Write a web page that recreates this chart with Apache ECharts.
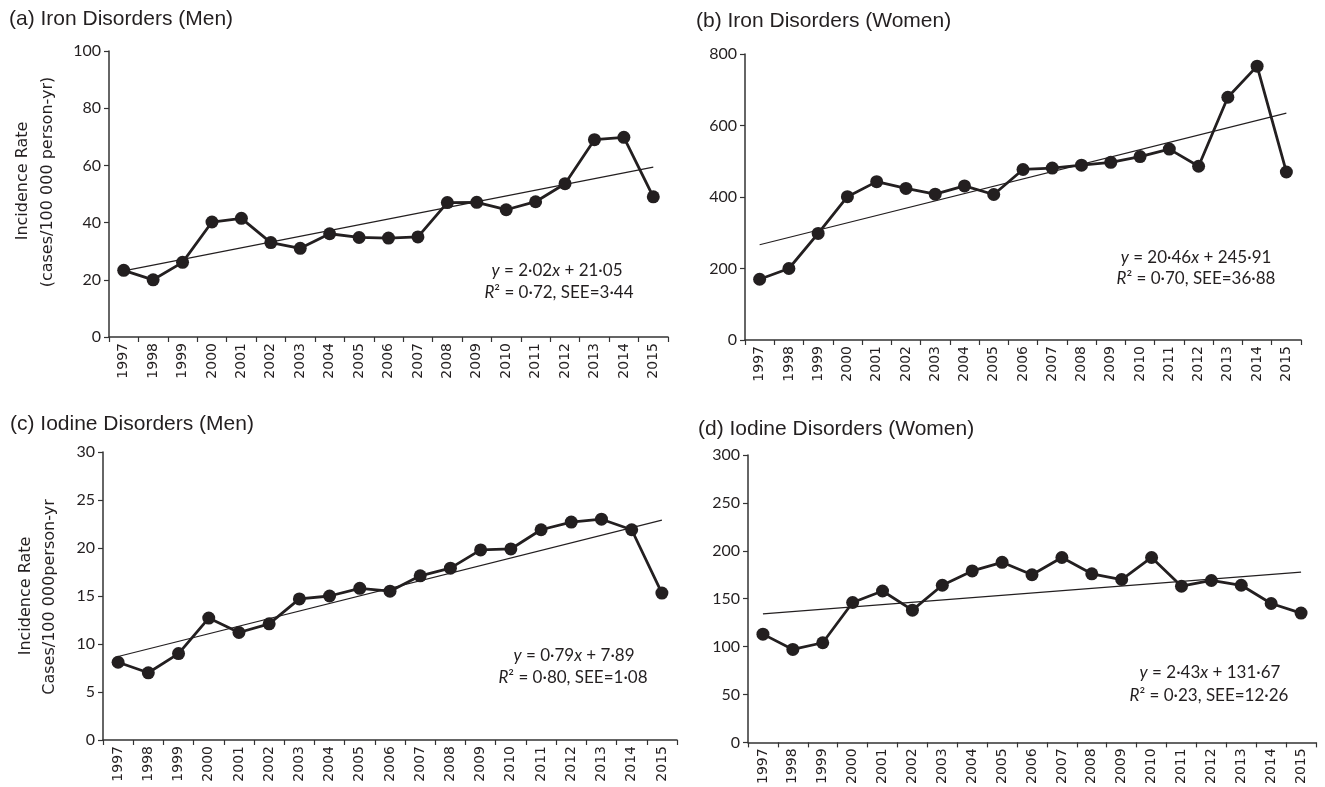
<!DOCTYPE html>
<html>
<head>
<meta charset="utf-8">
<script src="https://cdn.jsdelivr.net/npm/echarts@6/dist/echarts.min.js"></script>
<style>
html,body{margin:0;padding:0;background:#fff;}
#chart{width:1325px;height:787px;}
</style>
</head>
<body>
<div id="chart"></div>
<script>
// ---- data ----
const years = ['1997','1998','1999','2000','2001','2002','2003','2004','2005','2006','2007','2008','2009','2010','2011','2012','2013','2014','2015'];

const ironMen      = [23.3, 20.0, 26.1, 40.2, 41.5, 33.0, 31.0, 36.1, 34.8, 34.6, 35.0, 47.0, 47.1, 44.5, 47.3, 53.6, 69.0, 69.8, 49.0];
const ironWomen    = [170, 200, 298, 401, 443, 424, 408, 431, 407, 477, 481, 489, 497, 513, 534, 486, 679, 766, 470];
const iodineMen    = [8.1, 7.0, 9.0, 12.7, 11.2, 12.1, 14.7, 15.0, 15.8, 15.5, 17.1, 17.9, 19.8, 19.9, 21.9, 22.7, 23.0, 21.9, 15.3];
const iodineWomen  = [113, 97, 104, 146, 158, 138, 164, 179, 188, 175, 193, 176, 170, 193, 163, 169, 164, 145, 135];

// fitted-line end values (1997, 2015)
const trendIronMen     = [23.1, 59.4];
const trendIronWomen   = [266.4, 634.7];
const trendIodineMen   = [8.7, 22.9];
const trendIodineWomen = [134.1, 177.8];

// y axis ranges [min, max, interval]
const yIronMen     = [0, 100, 20];
const yIronWomen   = [0, 800, 200];
const yIodineMen   = [0, 30, 5];
const yIodineWomen = [0, 300, 50];

const titles = ['(a) Iron Disorders (Men)', '(b) Iron Disorders (Women)', '(c) Iodine Disorders (Men)', '(d) Iodine Disorders (Women)'];
const eqLines = [
  ['{i|y} = 2·02{i|x} + 21·05', '{i|R}² = 0·72, SEE=3·44'],
  ['{i|y} = 20·46{i|x} + 245·91', '{i|R}² = 0·70, SEE=36·88'],
  ['{i|y} = 0·79{i|x} + 7·89', '{i|R}² = 0·80, SEE=1·08'],
  ['{i|y} = 2·43{i|x} + 131·67', '{i|R}² = 0·23, SEE=12·26']
];
const yTitles = [['Incidence Rate', '(cases/100 000 person-yr)'], ['Incidence Rate', 'Cases/100 000person-yr']];

// ---- layout ----
const INK = '#231f20';
const grids = [
  {left: 109, top: 51, width: 559, height: 286},
  {left: 745, top: 54, width: 556, height: 286},
  {left: 103, top: 452, width: 574, height: 288},
  {left: 748, top: 455, width: 568, height: 288}
];
const series = [ironMen, ironWomen, iodineMen, iodineWomen];
const trends = [trendIronMen, trendIronWomen, trendIodineMen, trendIodineWomen];
const yRanges = [yIronMen, yIronWomen, yIodineMen, yIodineWomen];

const axisLine = {show: true, lineStyle: {color: '#333', width: 1.5}};
const axisTick = {show: true, length: 5, inside: false, lineStyle: {color: '#333', width: 1.2}};

const option = {
  backgroundColor: '#fff',
  animation: false,
  grid: grids.map(g => Object.assign({containLabel: false}, g)),
  xAxis: grids.map((g, i) => ({
    type: 'category', gridIndex: i, data: years, boundaryGap: true,
    axisLine: axisLine,
    axisTick: Object.assign({alignWithLabel: false, interval: 0}, axisTick),
    axisLabel: {rotate: 90, interval: 0, margin: 6, color: INK, fontFamily: 'DejaVu Sans', fontSize: 14},
    splitLine: {show: false}
  })),
  yAxis: grids.map((g, i) => ({
    type: 'value', gridIndex: i, min: yRanges[i][0], max: yRanges[i][1], interval: yRanges[i][2],
    axisLine: axisLine, axisTick: axisTick,
    axisLabel: {margin: 8, color: INK, fontFamily: 'Lato', fontSize: 16},
    splitLine: {show: false}
  })),
  series: [].concat(...grids.map((g, i) => [
    {
      type: 'line', xAxisIndex: i, yAxisIndex: i, z: 1,
      data: [[years[0], trends[i][0]], [years[years.length - 1], trends[i][1]]],
      symbol: 'none', lineStyle: {color: INK, width: 1.2}, silent: true
    },
    {
      type: 'line', xAxisIndex: i, yAxisIndex: i, z: 2,
      data: series[i], symbol: 'circle', symbolSize: 13,
      itemStyle: {color: INK}, lineStyle: {color: INK, width: 2.8}
    }
  ])),
  graphic: []
};

// panel titles
const titlePos = [[9, 19], [696, 21], [10, 424], [698, 429]];
titles.forEach((t, i) => option.graphic.push({
  type: 'text', x: titlePos[i][0], y: titlePos[i][1],
  style: {text: t, fill: INK, font: '21px "Liberation Sans", Arial, sans-serif', textAlign: 'left', textVerticalAlign: 'middle'}
}));

// y-axis titles (left panels), one element per line
const yTitlePos = [[[23, 181], [48, 182]], [[26, 596], [50, 597]]];
yTitles.forEach((lines, i) => lines.forEach((t, j) => option.graphic.push({
  type: 'text', x: yTitlePos[i][j][0], y: yTitlePos[i][j][1], rotation: Math.PI / 2,
  style: {text: t, fill: INK, font: '16px "DejaVu Sans", sans-serif', textAlign: 'center', textVerticalAlign: 'middle'}
})));

// regression equations
const eqPos = [
  [[557, 271], [559, 293]],
  [[1196, 258], [1196, 279]],
  [[574, 656], [573, 678]],
  [[1210, 673], [1209, 696]]
];
eqLines.forEach((lines, i) => lines.forEach((ln, j) => option.graphic.push({
  type: 'text', x: eqPos[i][j][0], y: eqPos[i][j][1],
  style: {
    text: ln, fill: INK, fontFamily: 'Lato', fontSize: 17, textAlign: 'center', textVerticalAlign: 'middle',
    rich: {i: {fontStyle: 'italic', fontFamily: 'Lato', fontSize: 17, fill: INK}}
  }
})));

const chart = echarts.init(document.getElementById('chart'), null, {renderer: 'canvas'});
chart.setOption(option);
</script>
</body>
</html>
